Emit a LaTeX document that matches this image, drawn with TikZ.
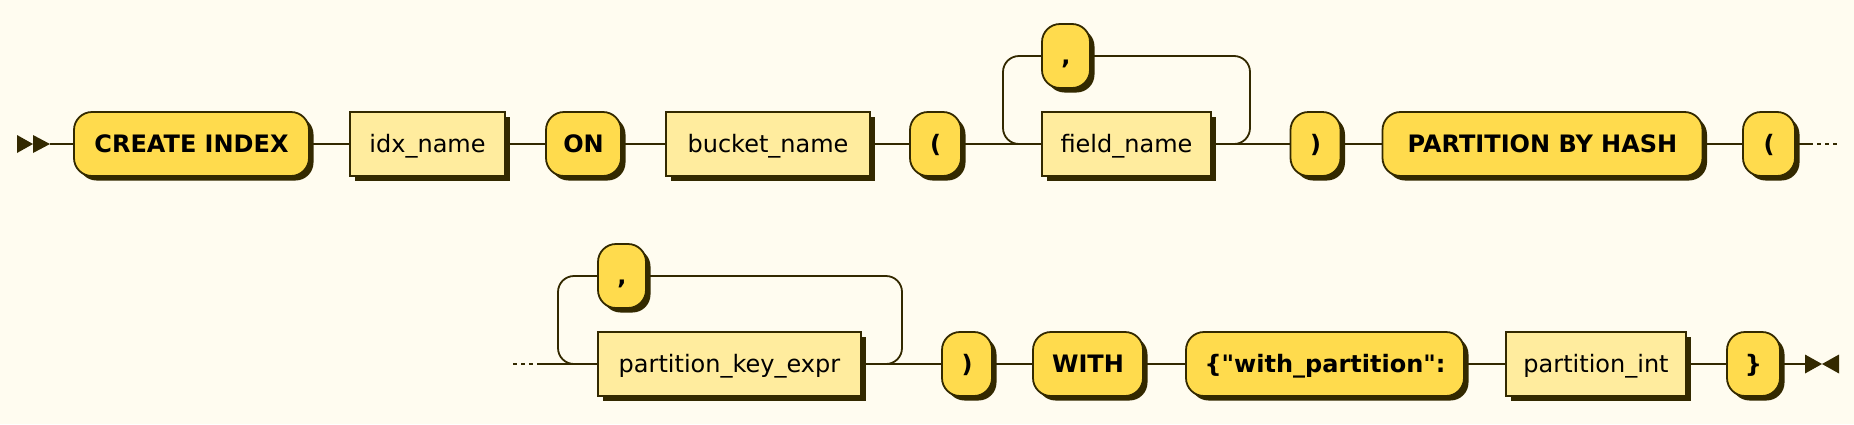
\documentclass[tikz,border=0pt]{standalone}
\usepackage{fontspec}
\setmainfont{DejaVu Sans}[Ligatures=TeXOff]
\usetikzlibrary{shadows}
\definecolor{bg}{HTML}{FFFCF0}
\definecolor{ln}{HTML}{332900}
\definecolor{termfill}{HTML}{FFDB4D}
\definecolor{ntfill}{HTML}{FFEC9E}
\begin{document}
\begin{tikzpicture}[x=1pt,y=-1pt,
  box/.style={draw=ln, line width=1.8pt, minimum height=64pt, inner sep=0pt, outer sep=0pt,
    text=black, text height=17pt, text depth=0pt,
    font=\fontsize{24}{28}\selectfont,
    general shadow={fill=ln, shadow xshift=4.5pt, shadow yshift=-4.5pt}},
  term/.style={box, fill=termfill, rounded corners=18pt, font=\fontsize{24}{28}\selectfont\bfseries},
  nonterm/.style={box, fill=ntfill},
  conn/.style={draw=ln, line width=1.8pt},
  dotconn/.style={conn, dash pattern=on 4pt off 4pt},
  loopconn/.style={conn, rounded corners=16pt},
  tip/.style={fill=ln}]
\fill[bg] (0,0) rectangle (1854,424);
\useasboundingbox (0,0) rectangle (1854,424);

% ---- row 1 ----
\node[term, minimum width=235pt] (create) at (191.5,144) {CREATE INDEX};
\node[nonterm, minimum width=155pt] (idx) at (427.5,144) {idx\_name};
\node[term, minimum width=75pt] (on) at (583.5,144) {ON};
\node[nonterm, minimum width=204pt] (bucket) at (768,144) {bucket\_name};
\node[term, minimum width=51pt] (lp1) at (935.5,144) {(};
\node[term, minimum width=48pt] (c1) at (1066,56) {,};
\node[nonterm, minimum width=169pt] (field) at (1126.5,144) {field\_name};
\node[term, minimum width=50pt] (rp1) at (1315.5,144) {)};
\node[term, minimum width=320pt] (pbh) at (1542.5,144) {PARTITION BY HASH};
\node[term, minimum width=52pt] (lp2) at (1769,144) {(};

\coordinate (st) at (50,144);
\fill[tip] (17,135) -- (33,144) -- (17,153) -- cycle;
\fill[tip] (33,135) -- (50,144) -- (33,153) -- cycle;
\draw[conn] (st) -- (create.west);
\draw[conn] (create.east) -- (idx.west);
\draw[conn] (idx.east) -- (on.west);
\draw[conn] (on.east) -- (bucket.west);
\draw[conn] (bucket.east) -- (lp1.west);
\draw[conn] (lp1.east) -- (field.west);
\coordinate (l1) at (1003,144);
\coordinate (r1) at (1250,144);
\draw[loopconn] (field.west) -- (l1) |- (c1.west);
\draw[loopconn] (c1.east) -| (r1) -- (field.east);
\draw[conn] (field.east) -- (rp1.west);
\draw[conn] (rp1.east) -- (pbh.west);
\draw[conn] (pbh.east) -- (lp2.west);
\coordinate (e1) at (1813,144);
\coordinate (e1d) at (1840,144);
\draw[conn] (lp2.east) -- (e1);
\draw[dotconn, dash phase=4pt] (e1) -- (e1d);

% ---- row 2 ----
\node[term, minimum width=48pt] (c2) at (622,276) {,};
\node[nonterm, minimum width=263pt] (pke) at (729.5,364) {partition\_key\_expr};
\node[term, minimum width=50pt] (rp2) at (967,364) {)};
\node[term, minimum width=110pt] (with) at (1088,364) {WITH};
\node[term, minimum width=278pt] (wp) at (1325,364) {\{"with\_partition":};
\node[nonterm, minimum width=180pt] (pint) at (1596,364) {partition\_int};
\node[term, minimum width=53pt] (rb) at (1753.5,364) {\}};

\coordinate (b2) at (513,364);
\coordinate (b2s) at (537,364);
\draw[dotconn] (b2) -- (b2s);
\draw[conn] (b2s) -- (pke.west);
\coordinate (l2) at (558,364);
\coordinate (r2) at (902,364);
\draw[loopconn] (pke.west) -- (l2) |- (c2.west);
\draw[loopconn] (c2.east) -| (r2) -- (pke.east);
\draw[conn] (pke.east) -- (rp2.west);
\draw[conn] (rp2.east) -- (with.west);
\draw[conn] (with.east) -- (wp.west);
\draw[conn] (wp.east) -- (pint.west);
\draw[conn] (pint.east) -- (rb.west);
\coordinate (en) at (1805,364);
\draw[conn] (rb.east) -- (en);
\fill[tip] (1805,354.5) -- (1822,364) -- (1805,373.5) -- cycle;
\fill[tip] (1839,354.5) -- (1822,364) -- (1839,373.5) -- cycle;
\end{tikzpicture}
\end{document}
